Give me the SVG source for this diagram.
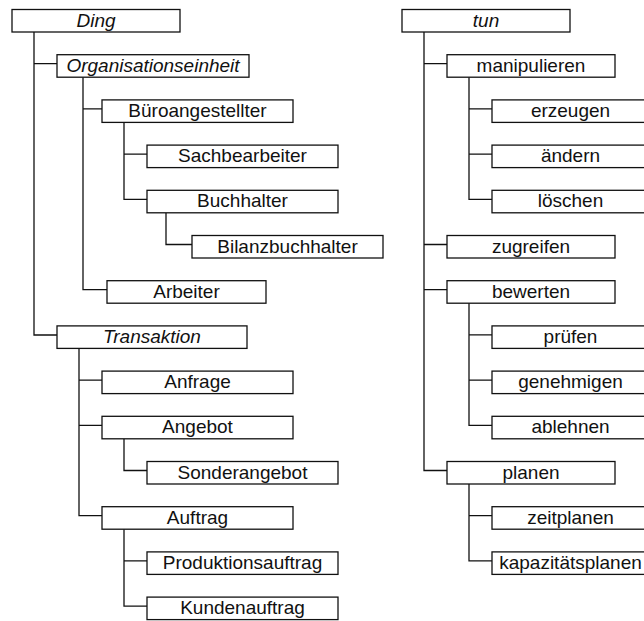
<svg xmlns="http://www.w3.org/2000/svg" width="644" height="621" viewBox="0 0 644 621">
<style>
.box{fill:#fff;stroke:#111;stroke-width:1.3}
.lbl{font-family:"Liberation Sans",Arial,sans-serif;font-size:19px;fill:#111;text-anchor:middle}
.it{font-style:italic}
.ln{fill:none;stroke:#111;stroke-width:1.3}
</style>
<rect width="644" height="621" fill="#fff"/>
<g id="connectors">
<path class="ln" d="M34,31V335H57 M34,63.7H57"/>
<path class="ln" d="M83,77.2V289.7H107 M83,108.9H102"/>
<path class="ln" d="M124,122.4V199.3H147 M124,154.1H147"/>
<path class="ln" d="M166,212.8V244.5H192"/>
<path class="ln" d="M79,348.4V515.7H102 M79,380.1H102 M79,425.3H102"/>
<path class="ln" d="M124,438.8V470.5H147"/>
<path class="ln" d="M124,529.2V606.1H147 M124,560.9H147"/>
<path class="ln" d="M424,31V470.5H447 M424,63.7H447 M424,244.5H447 M424,289.7H447"/>
<path class="ln" d="M469,77.2V199.3H492 M469,108.9H492 M469,154.1H492"/>
<path class="ln" d="M469,302.2V425.3H492 M469,334.9H492 M469,380.1H492"/>
<path class="ln" d="M469,483V560.9H492 M469,515.7H492"/>
</g>
<g id="ding"><rect class="box" x="12" y="9.5" width="168" height="22.5"/><text class="lbl it" x="96" y="26.5">Ding</text></g>
<g id="organisationseinheit"><rect class="box" x="57" y="54.7" width="192" height="22.5"/><text class="lbl it" x="153" y="71.7">Organisationseinheit</text></g>
<g id="bueroangestellter"><rect class="box" x="102" y="99.9" width="191" height="22.5"/><text class="lbl" x="197.5" y="116.9">Büroangestellter</text></g>
<g id="sachbearbeiter"><rect class="box" x="147" y="145.1" width="191" height="22.5"/><text class="lbl" x="242.5" y="162.1">Sachbearbeiter</text></g>
<g id="buchhalter"><rect class="box" x="147" y="190.3" width="191" height="22.5"/><text class="lbl" x="242.5" y="207.3">Buchhalter</text></g>
<g id="bilanzbuchhalter"><rect class="box" x="192" y="235.5" width="191" height="22.5"/><text class="lbl" x="287.5" y="252.5">Bilanzbuchhalter</text></g>
<g id="arbeiter"><rect class="box" x="107" y="280.7" width="159" height="22.5"/><text class="lbl" x="186.5" y="297.7">Arbeiter</text></g>
<g id="transaktion"><rect class="box" x="57" y="325.9" width="190" height="22.5"/><text class="lbl it" x="152" y="342.9">Transaktion</text></g>
<g id="anfrage"><rect class="box" x="102" y="371.1" width="191" height="22.5"/><text class="lbl" x="197.5" y="388.1">Anfrage</text></g>
<g id="angebot"><rect class="box" x="102" y="416.3" width="191" height="22.5"/><text class="lbl" x="197.5" y="433.3">Angebot</text></g>
<g id="sonderangebot"><rect class="box" x="147" y="461.5" width="191" height="22.5"/><text class="lbl" x="242.5" y="478.5">Sonderangebot</text></g>
<g id="auftrag"><rect class="box" x="102" y="506.7" width="191" height="22.5"/><text class="lbl" x="197.5" y="523.7">Auftrag</text></g>
<g id="produktionsauftrag"><rect class="box" x="147" y="551.9" width="191" height="22.5"/><text class="lbl" x="242.5" y="568.9">Produktionsauftrag</text></g>
<g id="kundenauftrag"><rect class="box" x="147" y="597.1" width="191" height="22.5"/><text class="lbl" x="242.5" y="614.1">Kundenauftrag</text></g>
<g id="tun"><rect class="box" x="402" y="9.5" width="168" height="22.5"/><text class="lbl it" x="486" y="26.5">tun</text></g>
<g id="manipulieren"><rect class="box" x="447" y="54.7" width="168" height="22.5"/><text class="lbl" x="531" y="71.7">manipulieren</text></g>
<g id="erzeugen"><rect class="box" x="492" y="99.9" width="157" height="22.5"/><text class="lbl" x="570.5" y="116.9">erzeugen</text></g>
<g id="aendern"><rect class="box" x="492" y="145.1" width="157" height="22.5"/><text class="lbl" x="570.5" y="162.1">ändern</text></g>
<g id="loeschen"><rect class="box" x="492" y="190.3" width="157" height="22.5"/><text class="lbl" x="570.5" y="207.3">löschen</text></g>
<g id="zugreifen"><rect class="box" x="447" y="235.5" width="168" height="22.5"/><text class="lbl" x="531" y="252.5">zugreifen</text></g>
<g id="bewerten"><rect class="box" x="447" y="280.7" width="168" height="22.5"/><text class="lbl" x="531" y="297.7">bewerten</text></g>
<g id="pruefen"><rect class="box" x="492" y="325.9" width="157" height="22.5"/><text class="lbl" x="570.5" y="342.9">prüfen</text></g>
<g id="genehmigen"><rect class="box" x="492" y="371.1" width="157" height="22.5"/><text class="lbl" x="570.5" y="388.1">genehmigen</text></g>
<g id="ablehnen"><rect class="box" x="492" y="416.3" width="157" height="22.5"/><text class="lbl" x="570.5" y="433.3">ablehnen</text></g>
<g id="planen"><rect class="box" x="447" y="461.5" width="168" height="22.5"/><text class="lbl" x="531" y="478.5">planen</text></g>
<g id="zeitplanen"><rect class="box" x="492" y="506.7" width="157" height="22.5"/><text class="lbl" x="570.5" y="523.7">zeitplanen</text></g>
<g id="kapazitaetsplanen"><rect class="box" x="492" y="551.9" width="157" height="22.5"/><text class="lbl" x="570.5" y="568.9">kapazitätsplanen</text></g>
</svg>
